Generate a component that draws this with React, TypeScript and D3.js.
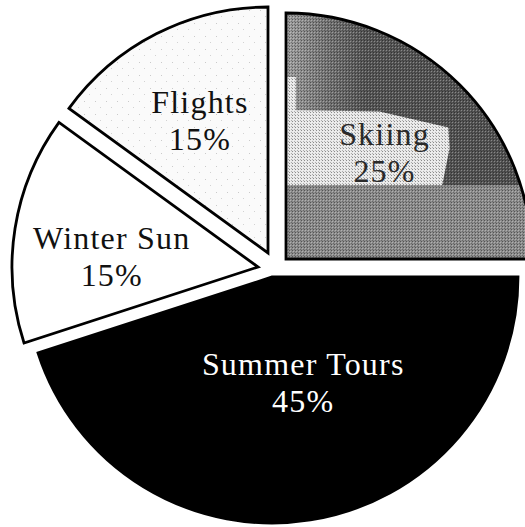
import React from "react";
import * as d3 from "d3";

// holiday sales share
const categories = ["Skiing", "Summer Tours", "Winter Sun", "Flights"];
const shares = [25, 45, 15, 15];
const shareLabels = ["25%", "45%", "15%", "15%"];

const W = 525;
const H = 527;
const center = { x: 272, y: 263 };
const R = 246;

// styling per slice
const fills = ["#555555", "#000000", "#ffffff", "#fafafa"];
const textColors = ["#2a2a2a", "#ffffff", "#111111", "#111111"];
const explode: [number, number][] = [[14, -4], [0, 14], [-14, 4], [-4, -10]];
const labelRadius = [145, 110, 145, 150];
const labelNudge: [number, number][] = [[-4, -4], [14, -3], [-3, 12], [0, 1]];

export default function App() {
  const pie = d3
    .pie<number>()
    .sort(null)
    .value((d) => d)
    .startAngle(0)
    .endAngle(2 * Math.PI);
  const slices = pie(shares);
  const arc = d3.arc<d3.PieArcDatum<number>>().innerRadius(0).outerRadius(R);

  return (
    <svg
      width={W}
      height={H}
      style={{ position: "absolute", left: 0, top: 0, background: "#fff" }}
    >
      <defs>
        <linearGradient id="skiShade" x1="0" x2={R} y1="0" y2="0" gradientUnits="userSpaceOnUse">
          <stop offset="0" stopColor="#a0a0a0" />
          <stop offset="0.16" stopColor="#767676" />
          <stop offset="0.32" stopColor="#565656" />
          <stop offset="1" stopColor="#525252" />
        </linearGradient>
        <pattern id="dither" width="3" height="3" patternUnits="userSpaceOnUse">
          <rect x="0" y="0" width="1" height="1" fill="#000" opacity="0.4" />
          <rect x="1" y="1" width="1" height="1" fill="#fff" opacity="0.3" />
          <rect x="2" y="2" width="1" height="1" fill="#000" opacity="0.25" />
        </pattern>
        <pattern id="speckle" width="11" height="13" patternUnits="userSpaceOnUse">
          <rect x="3" y="4" width="1" height="1" fill="#999" opacity="0.5" />
          <rect x="8" y="10" width="1" height="1" fill="#aaa" opacity="0.5" />
        </pattern>
        <clipPath id="skiClip">
          <path d={arc(slices[0]) || ""} />
        </clipPath>
      </defs>

      {slices.map((s, i) => {
        const [ox, oy] = explode[i];
        const tx = center.x + ox;
        const ty = center.y + oy;
        const lr = labelRadius[i];
        const [lx0, ly0] = d3.arc<d3.PieArcDatum<number>>().innerRadius(lr).outerRadius(lr).centroid(s);
        const lx = lx0 + labelNudge[i][0];
        const ly = ly0 + labelNudge[i][1];
        const d = arc(s) || "";
        return (
          <g key={categories[i]} transform={`translate(${tx},${ty})`}>
            {i === 0 ? (
              <g clipPath="url(#skiClip)">
                <path d={d} fill="url(#skiShade)" />
                <polygon
                  points={[
                    [0, -0.74 * R],
                    [0.04 * R, -0.74 * R],
                    [0.04 * R, -0.605 * R],
                    [0.38 * R, -0.6 * R],
                    [0.66 * R, -0.535 * R],
                    [0.665 * R, -0.45 * R],
                    [0.635 * R, -0.3 * R],
                    [0, -0.3 * R],
                  ]
                    .map((p) => p.join(","))
                    .join(" ")}
                  fill="#e9e9e9"
                />
                <rect x={0} y={-0.3 * R} width={R} height={0.3 * R} fill="#8c8c8c" />
                <path d={d} fill="url(#dither)" />
              </g>
            ) : (
              <>
                <path d={d} fill={fills[i]} />
                {i === 3 && <path d={d} fill="url(#speckle)" />}
              </>
            )}
            <path d={d} fill="none" stroke="#000" strokeWidth={2.8} strokeLinejoin="miter" />
            <text
              x={lx}
              y={ly}
              textAnchor="middle"
              fontFamily="'Liberation Serif', 'DejaVu Serif', serif"
              fontSize={32}
              letterSpacing={1.2}
              fill={textColors[i]}
            >
              <tspan x={lx} dy={-7.5}>
                {categories[i]}
              </tspan>
              <tspan x={lx} dy={37}>
                {shareLabels[i]}
              </tspan>
            </text>
          </g>
        );
      })}
    </svg>
  );
}
